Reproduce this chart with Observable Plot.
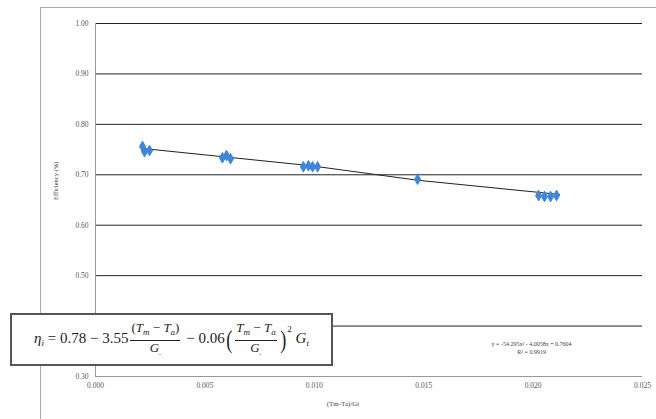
<!DOCTYPE html>
<html>
<head>
<meta charset="utf-8">
<script src="https://cdn.jsdelivr.net/npm/d3@7"></script>
<script src="https://cdn.jsdelivr.net/npm/@observablehq/plot@0.6"></script>
<style>
  html, body { margin: 0; padding: 0; background: #fff; overflow: hidden; }
  #wrap { position: relative; width: 656px; height: 419px; }
  #outer { position: absolute; left: 40px; top: 7px; width: 700px; height: 500px; border-left: 1px solid #aaa; border-top: 1px solid #aaa; }
  #chart { position: absolute; left: 0; top: 0; }
  #eqbox { position: absolute; left: 10px; top: 313px; width: 319px; height: 49px; border: 2px solid #555; background: #fff;
           display: flex; align-items: center; justify-content: center; font-family: "Liberation Serif", "DejaVu Serif", serif; font-size: 15px; color: #222; white-space: nowrap; }
  .it { font-style: italic; }
  .frac { display: inline-flex; flex-direction: column; align-items: center; vertical-align: middle; font-size: 13px; margin: 0 2px; }
  .frac .num { border-bottom: 1px solid #222; padding: 0 1px; line-height: 15px; }
  .frac .den { line-height: 14px; }
  sub { font-size: 9px; vertical-align: -3px; }
  .paren { font-size: 26px; vertical-align: middle; font-weight: 200; display: inline-block; transform: scaleX(0.7); }
</style>
</head>
<body>
<div id="wrap">
  <div id="outer"></div>
  <div id="chart"></div>
  <div id="eqbox">
    <span><span class="it">η<sub>i</sub></span> = 0.78 − 3.55<span class="frac"><span class="num">(<span class="it">T<sub>m</sub></span> − <span class="it">T<sub>a</sub></span>)</span><span class="den it">G<sub>.</sub></span></span> − 0.06<span class="paren">(</span><span class="frac"><span class="num"><span class="it">T<sub>m</sub></span> − <span class="it">T<sub>a</sub></span></span><span class="den it">G<sub>.</sub></span></span><span class="paren">)</span><span style="position:relative;top:-11px;font-size:9px">2</span> <span class="it">G<sub>t</sub></span></span>
  </div>
</div>
<script>
// measured points (x = (Tm-Ta)/Gt, y = efficiency)
const ptX = [0.00215, 0.00224, 0.00247, 0.0058, 0.00599, 0.00617, 0.0095, 0.00973, 0.00992, 0.01015, 0.01472, 0.02025, 0.02052, 0.0208, 0.02107];
const ptY = [0.756, 0.746, 0.748, 0.734, 0.738, 0.732, 0.716, 0.718, 0.716, 0.716, 0.691, 0.659, 0.657, 0.657, 0.659];
// trend line
const trendX = [0.00219, 0.00983, 0.01476, 0.02121];
const trendY = [0.752, 0.718, 0.689, 0.661];
const xTicks = [0, 0.005, 0.010, 0.015, 0.020, 0.025];
const yTicks = [0.3, 0.4, 0.5, 0.6, 0.7, 0.8, 0.9, 1.0];
const gridY = [0.4, 0.5, 0.6, 0.7, 0.8, 0.9, 1.0];
const trendLabel = ["y = -54.295x² - 4.0058x + 0.7604", "R² = 0.9919"];

const points = ptX.map((x, i) => ({x, y: ptY[i]}));
const trend = trendX.map((x, i) => ({x, y: trendY[i]}));

const chart = Plot.plot({
  width: 656,
  height: 419,
  marginLeft: 95,
  marginRight: 14,
  marginTop: 23,
  marginBottom: 43,
  style: { fontFamily: "Liberation Serif, serif", fontSize: "7.5px", color: "#555", background: "transparent" },
  x: { domain: [0, 0.025], ticks: xTicks, tickFormat: d3.format(".3f"), tickSize: 0, tickPadding: 6, label: null },
  y: { domain: [0.3, 1.0], ticks: yTicks, tickFormat: d3.format(".2f"), tickSize: 0, tickPadding: 7, label: null },
  marks: [
    Plot.ruleY(gridY, { stroke: "#222", strokeWidth: 1 }),
    Plot.ruleY([0.3], { stroke: "#999", strokeWidth: 1 }),
    Plot.ruleX([0], { stroke: "#999", strokeWidth: 1 }),
    Plot.line(trend, { x: "x", y: "y", stroke: "#222", strokeWidth: 1 }),
    Plot.dot(points, { x: "x", y: "y", symbol: "diamond", r: 3, fill: "#3d86dc", stroke: "#3d86dc", strokeWidth: 1.2, strokeLinejoin: "round" }),
    Plot.text([trendLabel.join("\n")], { x: 0.01993, y: 0.357, fontSize: 6, fill: "#444", lineHeight: 1.3, textAnchor: "middle" }),
    Plot.text(["Efficiency (%)"], { frameAnchor: "left", dx: -40, rotate: -90, fontSize: 6.5, fill: "#333" }),
    Plot.text(["(Tm-Ta)/Gt"], { frameAnchor: "bottom", dx: -26, dy: 29, fontSize: 7, fill: "#444" })
  ]
});
document.getElementById("chart").appendChild(chart);
</script>
</body>
</html>
